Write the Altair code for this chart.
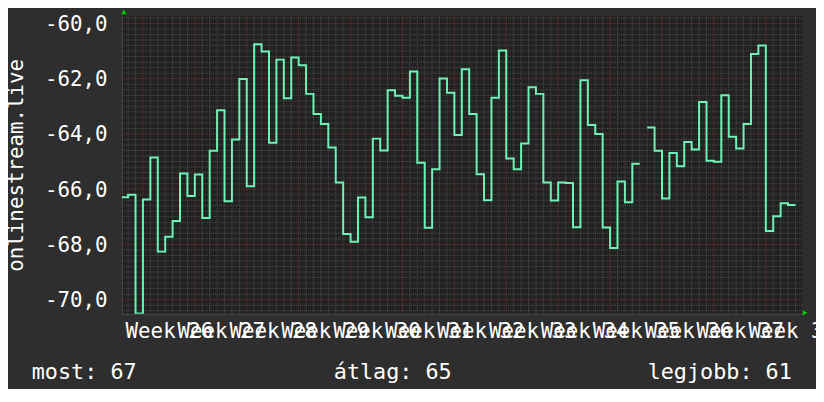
import altair as alt
import pandas as pd
import numpy as np

# ---- data (daily values, week units on x) ----
values = [
    -66.29, -66.20, -70.50, -66.37, -64.85, -68.26, -67.72, -67.15, -65.43, -66.25,
    -65.47, -67.04, -64.61, -63.14, -66.44, -64.20, -62.01, -65.89, -60.75, -61.02,
    -64.32, -61.31, -62.71, -61.23, -61.51, -62.55, -63.28, -63.64, -64.49, -65.76,
    -67.62, -67.90, -66.30, -67.02, -64.17, -64.60, -62.42, -62.62, -62.69, -61.74,
    -65.04, -67.40, -65.28, -61.99, -62.51, -64.04, -61.66, -63.28, -65.46, -66.40,
    -62.69, -60.98, -64.89, -65.28, -64.35, -62.31, -62.55, -65.76, -66.41, -65.76,
    -65.78, -67.38, -62.06, -63.68, -64.00, -67.39, -68.13, -65.72, -66.47, -65.08,
    None, -63.77, -64.61, -66.34, -64.69, -65.17, -64.29, -64.56, -62.84, -64.97,
    -65.01, -62.60, -64.10, -64.53, -63.64, -61.11, -60.80, -67.51, -66.98, -66.51,
    -66.57,
]
first_day = 25 + 4 / 7          # start of the first sample, in week units
week_numbers = list(range(26, 39))
y_ticks = [-70, -68, -66, -64, -62, -60]
legend_labels = ["most: 67", "átlag: 65", "legjobb: 61"]
axis_title = "onlinestream.live"

X_DOMAIN = [25.594, 38.700]
Y_DOMAIN = [-70.513, -59.724]

FONT = "DejaVu Sans Mono"
LINE_COLOR = "#6ff2b8"

# ---- build tables ----
rows = []
seg = 0
for i, v in enumerate(values):
    if v is None:
        seg += 1
        continue
    t0 = first_day + i / 7
    rows.append({"t": t0, "v": v, "seg": seg, "ord": 2 * i})
    rows.append({"t": t0 + 1 / 7, "v": v, "seg": seg, "ord": 2 * i + 1})
line_df = pd.DataFrame(rows)

day_lines = [25 + k / 7 for k in range(0, 100)
             if k % 7 != 0 and X_DOMAIN[0] < 25 + k / 7 < X_DOMAIN[1]]
minor_x_df = pd.DataFrame({"t": day_lines})
major_x_df = pd.DataFrame({"t": [float(w) for w in week_numbers]})

minor_y = [float(round(y, 1)) for y in np.arange(-70.4, -59.7, 0.2)
           if not (abs(y - round(y)) < 1e-6 and int(round(y)) % 2 == 0)]
minor_y_df = pd.DataFrame({"v": minor_y})
major_y_df = pd.DataFrame({"v": [float(y) for y in y_ticks]})

xs = alt.Scale(domain=X_DOMAIN, nice=False, zero=False)
ys = alt.Scale(domain=Y_DOMAIN, nice=False, zero=False)

x_axis = alt.Axis(
    values=[w + 0.5 for w in week_numbers],
    labelExpr="'Week ' + floor(datum.value)",
    labelOverlap=False, labelFlush=False, labelBound=False,
    labelBaseline="alphabetic", labelAlign="center", labelPadding=24,
    labelFont=FONT, labelFontSize=21, labelColor="#ffffff",
    ticks=False, grid=False, domain=True, domainColor="#4a4a4a",
    title=None,
)
y_axis = alt.Axis(
    values=y_ticks,
    labelExpr="'-' + replace(format(abs(datum.value), '.1f'), '.', ',')",
    labelFont=FONT, labelFontSize=21, labelColor="#ffffff",
    labelBaseline="middle", labelPadding=15, labelOffset=1,
    ticks=False, grid=False, domain=True, domainColor="#4a4a4a",
    title=axis_title, titleFont=FONT, titleFontSize=21, titleFontWeight="normal",
    titleColor="#ffffff", titleAngle=270, titleX=-106, titleY=150.5,
    titleAlign="center", titleBaseline="middle",
)

minor_v = alt.Chart(minor_x_df).mark_rule(
    color="#4f4f4f", strokeWidth=1, strokeDash=[1, 1]
).encode(x=alt.X("t:Q", scale=xs, axis=x_axis))
minor_h = alt.Chart(minor_y_df).mark_rule(
    color="#4f4f4f", strokeWidth=1, strokeDash=[1, 1]
).encode(y=alt.Y("v:Q", scale=ys, axis=y_axis))
major_v = alt.Chart(major_x_df).mark_rule(
    color="#763434", strokeWidth=1, strokeDash=[1, 1]
).encode(x=alt.X("t:Q", scale=xs, axis=x_axis))
major_h = alt.Chart(major_y_df).mark_rule(
    color="#763434", strokeWidth=1, strokeDash=[1, 1]
).encode(y=alt.Y("v:Q", scale=ys, axis=y_axis))

line = alt.Chart(line_df).mark_line(
    color=LINE_COLOR, strokeWidth=2, clip=True, strokeJoin="miter", interpolate="linear"
).encode(
    x=alt.X("t:Q", scale=xs, axis=x_axis),
    y=alt.Y("v:Q", scale=ys, axis=y_axis),
    detail="seg:N",
    order="ord:Q",
)

arrow_up = alt.Chart(pd.DataFrame({"t": [X_DOMAIN[0]], "v": [Y_DOMAIN[1]]})).mark_point(
    shape="triangle-up", filled=True, color="#00cc00", size=30, opacity=1,
    xOffset=2, yOffset=-4,
).encode(x=alt.X("t:Q", scale=xs, axis=x_axis), y=alt.Y("v:Q", scale=ys, axis=y_axis))
arrow_right = alt.Chart(pd.DataFrame({"t": [X_DOMAIN[1]], "v": [Y_DOMAIN[0]]})).mark_point(
    shape="triangle-right", filled=True, color="#00cc00", size=30, opacity=1,
    xOffset=3, yOffset=-1,
).encode(x=alt.X("t:Q", scale=xs, axis=x_axis), y=alt.Y("v:Q", scale=ys, axis=y_axis))

legend_x = [-91, 214, 531]
legend_layers = [
    alt.Chart(pd.DataFrame({"label": [lbl]})).mark_text(
        font=FONT, fontSize=22, color="#ffffff", align="left", baseline="alphabetic"
    ).encode(x=alt.value(px), y=alt.value(367), text="label:N")
    for lbl, px in zip(legend_labels, legend_x)
]

chart = alt.layer(
    minor_v, minor_h, major_v, major_h, line, arrow_up, arrow_right, *legend_layers
).properties(
    width=687, height=301,
    autosize=alt.AutoSizeParams(type="none"),
    padding={"left": 115, "top": 6, "right": 14, "bottom": 74},
    background="#2e2e2e",
).configure_view(fill="#222222", strokeWidth=0)

chart.save("out.html", embed_options={"renderer": "svg", "actions": False})
